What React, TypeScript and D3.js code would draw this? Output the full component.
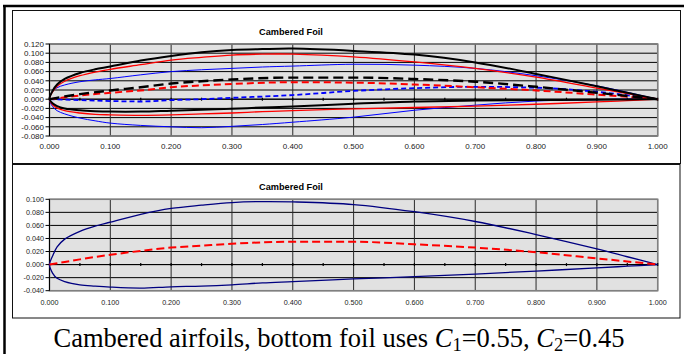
import React, { useRef, useEffect } from "react";
import * as d3 from "d3";

// chord stations used for the surface curves
const STATIONS = [0, 0.005, 0.0125, 0.025, 0.05, 0.075, 0.1, 0.15, 0.2, 0.25, 0.3, 0.35, 0.4, 0.5, 0.6, 0.7, 0.8, 0.9, 0.95, 1.0];
// chord stations used for the camber lines
const CAMBER_X = [0, 0.025, 0.05, 0.1, 0.15, 0.2, 0.25, 0.3, 0.4, 0.5, 0.6, 0.7, 0.8, 0.9, 1.0];

// top chart: three foils
const BLACK_UPPER = [0, 0.018, 0.032, 0.044, 0.057, 0.065, 0.071, 0.084, 0.094, 0.102, 0.107, 0.109, 0.110, 0.105, 0.097, 0.080, 0.055, 0.028, 0.014, 0];
const BLACK_LOWER = [0, -0.009, -0.015, -0.020, -0.024, -0.026, -0.027, -0.027, -0.025, -0.023, -0.021, -0.018, -0.016, -0.010, -0.005, -0.003, -0.002, -0.001, -0.0005, 0];
const BLACK_CAMBER = [0, 0.006, 0.011, 0.019, 0.026, 0.034, 0.039, 0.043, 0.047, 0.047, 0.044, 0.038, 0.027, 0.014, 0];

const RED_UPPER = [0, 0.016, 0.028, 0.039, 0.051, 0.059, 0.065, 0.075, 0.085, 0.091, 0.096, 0.098, 0.098, 0.092, 0.081, 0.067, 0.048, 0.024, 0.012, 0];
const RED_LOWER = [0, -0.012, -0.019, -0.025, -0.030, -0.033, -0.034, -0.035, -0.034, -0.032, -0.030, -0.027, -0.025, -0.021, -0.018, -0.015, -0.011, -0.006, -0.003, 0];
const RED_CAMBER = [0, 0.004, 0.008, 0.014, 0.019, 0.026, 0.030, 0.033, 0.037, 0.036, 0.032, 0.026, 0.019, 0.010, 0];

const BLUE_UPPER = [0, 0.017, 0.025, 0.031, 0.038, 0.042, 0.045, 0.053, 0.060, 0.064, 0.067, 0.070, 0.072, 0.076, 0.074, 0.067, 0.051, 0.029, 0.015, 0];
const BLUE_LOWER = [0, -0.016, -0.025, -0.032, -0.041, -0.047, -0.052, -0.057, -0.060, -0.062, -0.059, -0.055, -0.050, -0.039, -0.024, -0.013, -0.004, -0.001, 0, 0];
const BLUE_CAMBER = [0, -0.001, -0.002, -0.004, -0.005, -0.002, 0.000, 0.003, 0.009, 0.018, 0.024, 0.027, 0.025, 0.016, 0];

// bottom chart: C1=0.55, C2=0.45 foil
const FOIL_UPPER = [0, 0.013, 0.027, 0.039, 0.051, 0.059, 0.065, 0.077, 0.086, 0.091, 0.095, 0.0965, 0.096, 0.092, 0.081, 0.066, 0.046, 0.024, 0.012, 0];
const FOIL_LOWER = [0, -0.013, -0.021, -0.026, -0.031, -0.033, -0.0345, -0.036, -0.034, -0.033, -0.031, -0.028, -0.026, -0.022, -0.0185, -0.0145, -0.010, -0.005, -0.0025, 0];
const FOIL_CAMBER = [0, 0.004, 0.008, 0.015, 0.021, 0.026, 0.029, 0.032, 0.035, 0.035, 0.031, 0.026, 0.019, 0.0095, 0];

const X_TICKS = [0, 0.1, 0.2, 0.3, 0.4, 0.5, 0.6, 0.7, 0.8, 0.9, 1.0];
const X_MINOR = [0, 0.05, 0.1, 0.15, 0.2, 0.25, 0.3, 0.35, 0.4, 0.45, 0.5, 0.55, 0.6, 0.65, 0.7, 0.75, 0.8, 0.85, 0.9, 0.95, 1.0];
const TOP_Y_TICKS = [-0.08, -0.06, -0.04, -0.02, 0, 0.02, 0.04, 0.06, 0.08, 0.1, 0.12];
const BOTTOM_Y_TICKS = [-0.04, -0.02, 0, 0.02, 0.04, 0.06, 0.08, 0.1];

const TITLE = "Cambered Foil";

type Pt = [number, number];
const zip = (xs: number[], ys: number[]): Pt[] => xs.map((x, i) => [x, ys[i]]);
// trailing edge -> lower -> leading edge -> upper -> trailing edge
const contour = (upper: number[], lower: number[]): Pt[] => [
  ...zip(STATIONS, lower).reverse(),
  ...zip(STATIONS, upper).slice(1),
];

interface PanelOpts {
  top: number;
  bottom: number;
  yTicks: number[];
  titleY: number;
  tickFont: number;
  xLabelY: number;
}

function drawPanel(
  g: d3.Selection<SVGGElement, unknown, null, undefined>,
  opts: PanelOpts,
  foils: { pts: Pt[]; color: string; width: number; dash: string; smooth: boolean }[]
) {
  const x = d3.scaleLinear().domain([0, 1]).range([49.5, 657.7]);
  const y = d3.scaleLinear()
    .domain([opts.yTicks[0], opts.yTicks[opts.yTicks.length - 1]])
    .range([opts.bottom, opts.top]);

  // plot background
  g.append("rect")
    .attr("x", x(0)).attr("y", opts.top)
    .attr("width", x(1) - x(0)).attr("height", opts.bottom - opts.top)
    .attr("fill", "#e1e1e1");

  // gridlines
  g.selectAll(".hg").data(opts.yTicks).enter().append("line")
    .attr("x1", x(0)).attr("x2", x(1))
    .attr("y1", d => y(d)).attr("y2", d => y(d))
    .attr("stroke", "#000").attr("stroke-width", 1);
  g.selectAll(".vg").data(X_TICKS).enter().append("line")
    .attr("x1", d => x(d)).attr("x2", d => x(d))
    .attr("y1", opts.top).attr("y2", opts.bottom)
    .attr("stroke", "#2a2a2a").attr("stroke-width", 1);

  // plot border
  g.append("rect")
    .attr("x", x(0)).attr("y", opts.top)
    .attr("width", x(1) - x(0)).attr("height", opts.bottom - opts.top)
    .attr("fill", "none").attr("stroke", "#808080").attr("stroke-width", 1.5);

  // y axis line + ticks
  g.append("line")
    .attr("x1", x(0)).attr("x2", x(0)).attr("y1", opts.top).attr("y2", opts.bottom)
    .attr("stroke", "#000");
  g.selectAll(".yt").data(opts.yTicks).enter().append("line")
    .attr("x1", x(0) - 4).attr("x2", x(0))
    .attr("y1", d => y(d)).attr("y2", d => y(d))
    .attr("stroke", "#000");
  g.selectAll(".yl").data(opts.yTicks).enter().append("text")
    .attr("x", x(0) - 5.5).attr("y", d => y(d))
    .attr("dy", "0.35em")
    .attr("text-anchor", "end")
    .style("font-family", "Arial, 'Liberation Sans', sans-serif")
    .style("font-size", `${opts.tickFont}px`)
    .style("fill", "#222")
    .text(d => d.toFixed(3));

  // x axis at y = 0 with crossing ticks
  g.append("line")
    .attr("x1", x(0)).attr("x2", x(1)).attr("y1", y(0)).attr("y2", y(0))
    .attr("stroke", "#000");
  g.selectAll(".xt").data(X_MINOR).enter().append("line")
    .attr("x1", d => x(d)).attr("x2", d => x(d))
    .attr("y1", y(0) - 1.5).attr("y2", y(0) + 1.5)
    .attr("stroke", "#000").attr("stroke-width", 1.2);
  g.selectAll(".xl").data(X_TICKS).enter().append("text")
    .attr("x", d => x(d)).attr("y", opts.xLabelY)
    .attr("dy", "0.35em")
    .attr("text-anchor", "middle")
    .style("font-family", "Arial, 'Liberation Sans', sans-serif")
    .style("font-size", `${opts.tickFont}px`)
    .style("fill", "#222")
    .text(d => d.toFixed(3));

  // title
  g.append("text")
    .attr("x", 291).attr("y", opts.titleY)
    .attr("text-anchor", "middle")
    .style("font-family", "Arial, 'Liberation Sans', sans-serif")
    .style("font-size", "9.2px")
    .style("font-weight", 700)
    .text(TITLE);

  const clipId = `clip${Math.round(opts.top)}`;
  g.append("clipPath").attr("id", clipId).append("rect")
    .attr("x", x(0) - 2).attr("y", opts.top)
    .attr("width", x(1) - x(0) + 4).attr("height", opts.bottom - opts.top);

  const smoothLine = d3.line<Pt>().x(d => x(d[0])).y(d => y(d[1])).curve(d3.curveCatmullRom.alpha(0.5));
  const monoLine = d3.line<Pt>().x(d => x(d[0])).y(d => y(d[1])).curve(d3.curveMonotoneX);

  foils.forEach(f => {
    g.append("path")
      .datum(f.pts)
      .attr("clip-path", `url(#${clipId})`)
      .attr("fill", "none")
      .attr("stroke", f.color)
      .attr("stroke-width", f.width)
      .attr("stroke-dasharray", f.dash)
      .attr("stroke-linejoin", "round")
      .attr("d", f.smooth ? smoothLine : monoLine);
  });
}

export default function App() {
  const svgRef = useRef<SVGSVGElement>(null);

  useEffect(() => {
    if (!svgRef.current) return;
    const svg = d3.select(svgRef.current);
    svg.selectAll("*").remove();

    svg.append("rect").attr("width", 684).attr("height", 354).attr("fill", "#fff");

    // outer table frame (top + left)
    svg.append("line").attr("x1", 3).attr("x2", 684).attr("y1", 6).attr("y2", 6)
      .attr("stroke", "#000").attr("stroke-width", 2.5);
    svg.append("line").attr("x1", 4.5).attr("x2", 4.5).attr("y1", 5).attr("y2", 354)
      .attr("stroke", "#000").attr("stroke-width", 2.5);

    // chart boxes
    svg.append("rect").attr("x", 12.5).attr("y", 10.5).attr("width", 668).attr("height", 153)
      .attr("fill", "#fff").attr("stroke", "#111").attr("stroke-width", 1);
    svg.append("rect").attr("x", 12.5).attr("y", 164.5).attr("width", 667.5).attr("height", 153.5)
      .attr("fill", "#fff").attr("stroke", "#111").attr("stroke-width", 1);

    const gTop = svg.append("g");
    drawPanel(gTop, { top: 44, bottom: 136, yTicks: TOP_Y_TICKS, titleY: 34.5, tickFont: 8, xLabelY: 146 }, [
      { pts: contour(BLUE_UPPER, BLUE_LOWER), color: "#0000ff", width: 1, dash: "", smooth: true },
      { pts: zip(CAMBER_X, BLUE_CAMBER), color: "#0000ff", width: 1.8, dash: "5,3", smooth: false },
      { pts: contour(RED_UPPER, RED_LOWER), color: "#ff0000", width: 1.3, dash: "", smooth: true },
      { pts: zip(CAMBER_X, RED_CAMBER), color: "#ff0000", width: 2, dash: "7,4", smooth: false },
      { pts: contour(BLACK_UPPER, BLACK_LOWER), color: "#000000", width: 2, dash: "", smooth: true },
      { pts: zip(CAMBER_X, BLACK_CAMBER), color: "#000000", width: 2.4, dash: "10,5", smooth: false },
    ]);

    const gBottom = svg.append("g");
    drawPanel(gBottom, { top: 199.3, bottom: 290.7, yTicks: BOTTOM_Y_TICKS, titleY: 189.5, tickFont: 7.2, xLabelY: 302.7 }, [
      { pts: contour(FOIL_UPPER, FOIL_LOWER), color: "#000080", width: 1.3, dash: "", smooth: true },
      { pts: zip(CAMBER_X, FOIL_CAMBER), color: "#ff0000", width: 2, dash: "8,4", smooth: false },
    ]);

    // caption
    const cap = svg.append("text")
      .attr("x", 339).attr("y", 347)
      .attr("text-anchor", "middle")
      .style("font-family", "'Liberation Serif', 'Times New Roman', serif")
      .style("font-size", "26.5px")
      .style("fill", "#000");
    cap.append("tspan").text("Cambered airfoils, bottom foil uses ");
    cap.append("tspan").style("font-style", "italic").text("C");
    cap.append("tspan").attr("dy", 3.5).style("font-size", "18.5px").text("1");
    cap.append("tspan").attr("dy", -3.5).text("=0.55, ");
    cap.append("tspan").style("font-style", "italic").text("C");
    cap.append("tspan").attr("dy", 3.5).style("font-size", "18.5px").text("2");
    cap.append("tspan").attr("dy", -3.5).text("=0.45");
  }, []);

  return (
    <svg
      ref={svgRef}
      width={684}
      height={354}
      style={{ display: "block", position: "absolute", left: 0, top: 0 }}
    />
  );
}
